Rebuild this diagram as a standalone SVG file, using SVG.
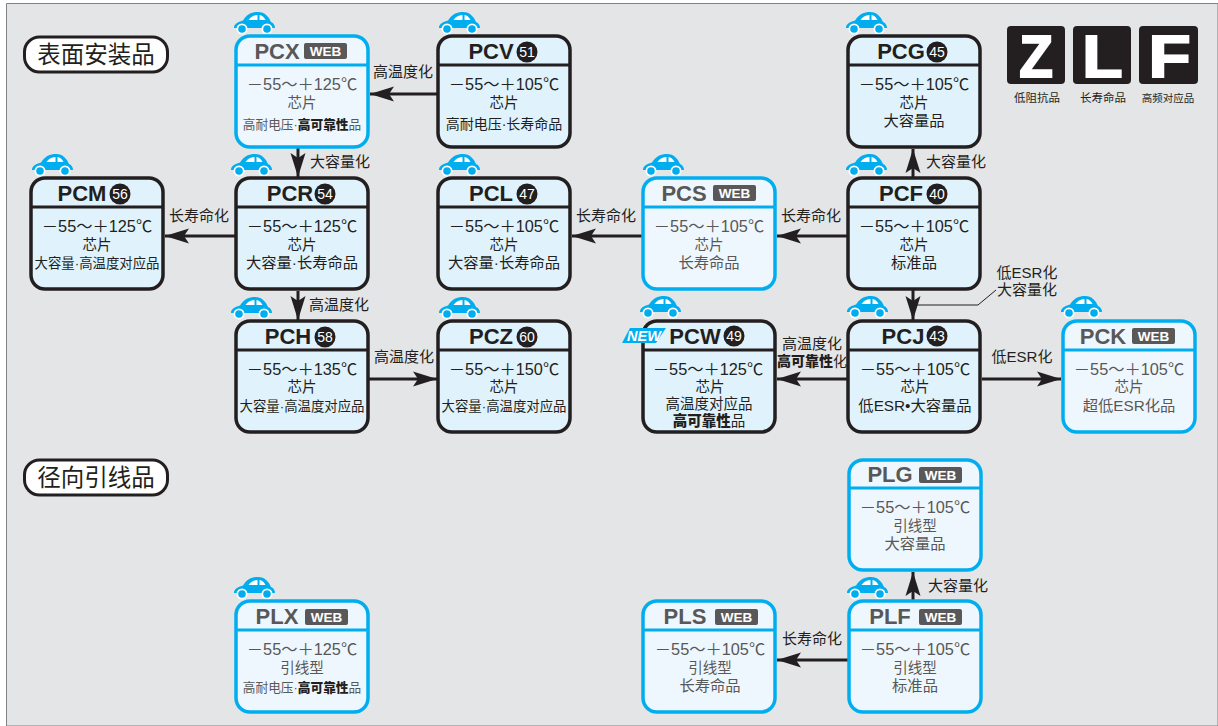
<svg xmlns="http://www.w3.org/2000/svg" xmlns:xlink="http://www.w3.org/1999/xlink" width="1218" height="726" viewBox="0 0 1218 726">
<style>
text{font-family:"Liberation Sans","Noto Sans CJK SC",sans-serif;text-anchor:middle;fill:#231f20}
.box{stroke-width:3.5}
.k .box{stroke:#231f20;fill:#e0f2fb}
.b .box{stroke:#00aeef;fill:#eef7fd}
.k .div{stroke:#231f20;stroke-width:3}
.b .div{stroke:#00aeef;stroke-width:3}
.t{font-size:22px;font-weight:700}
.b text{fill:#595757}
.temp{font-size:16.300px}
.l2{font-size:14.500px}
.l3{font-size:15.300px}
.l3w{font-size:13.400px}
.l3x{font-size:12.700px}
.b text.w,.w{fill:#fff;font-size:13.500px;font-weight:700}
.n{fill:#fff;font-size:14px}
.b tspan.s,.s{font-weight:900;fill:#231f20}
.lab{font-size:15px}
.conn{stroke:#231f20;stroke-width:3;fill:none;marker-end:url(#ah)}
.cap{font-size:11.500px}
.z{fill:#fff;stroke:#fff;stroke-width:2;font-size:60px;font-weight:700}
.tag{fill:#fff;stroke:#231f20;stroke-width:3}
.sec{font-size:23.500px}
</style>
<defs>
<marker id="ah" markerUnits="userSpaceOnUse" markerWidth="26" markerHeight="18" refX="24" refY="9" orient="auto"><path d="M0 1.500L24 9L0 16.500L5 9Z" fill="#231f20"/></marker>
<symbol id="car" width="44" height="24" viewBox="0 0 44 24" overflow="visible">
<path d="M0 15C1 11 5 9.500 9 8.500C13 2 18 0 24 0C31 0 35 5 37 10C40 11 41 14 41 16H0Z" fill="#00aeef"/>
<path d="M14.500 8C16.500 5 19 3.200 23.500 3V8ZM25.500 3C28 3.200 30 5 31.500 8H25.500Z" fill="#fff"/>
<circle cx="8" cy="17" r="5.500" fill="#fff"/><circle cx="8" cy="17" r="3.800" fill="#00aeef"/>
<circle cx="33" cy="17" r="5.500" fill="#fff"/><circle cx="33" cy="17" r="3.800" fill="#00aeef"/>
</symbol>
</defs>
<rect width="1218" height="726" fill="#fff"/>
<path d="M6.500 726V3.500H1218V726Z" fill="#e4e5e7" stroke="#808285" stroke-width="1"/>

<g id="section-smd"><rect class="tag" x="24.500" y="37" width="143" height="35" rx="15"/><text class="sec" x="96" y="63">表面安装品</text></g>
<g id="section-radial"><rect class="tag" x="24.500" y="460" width="143" height="35" rx="15"/><text class="sec" x="96" y="486">径向引线品</text></g>

<g id="connectors">
<path class="conn" d="M437 94H370"/>
<path class="conn" d="M298 148V177"/>
<path class="conn" d="M236 236H165"/>
<path class="conn" d="M298 291V320"/>
<path class="conn" d="M368 379H437"/>
<path class="conn" d="M643 236H572"/>
<path class="conn" d="M848 236H777"/>
<path class="conn" d="M913 178V149"/>
<path class="conn" d="M913 290V320"/>
<path class="conn" d="M848 379H777"/>
<path class="conn" d="M982 379H1061"/>
<path class="conn" d="M913 601V572"/>
<path class="conn" d="M848 660H777"/>
<path d="M914 305H978L996 290" fill="none" stroke="#231f20" stroke-width="1"/>
<text class="lab" x="403" y="77">高温度化</text>
<text class="lab" x="340" y="167">大容量化</text>
<text class="lab" x="199" y="221">长寿命化</text>
<text class="lab" x="339" y="310">高温度化</text>
<text class="lab" x="404" y="362">高温度化</text>
<text class="lab" x="606" y="221">长寿命化</text>
<text class="lab" x="811" y="221">长寿命化</text>
<text class="lab" x="956" y="167">大容量化</text>
<text class="lab" x="1027" y="278">低ESR化</text>
<text class="lab" x="1027" y="295">大容量化</text>
<text class="lab" x="812" y="349">高温度化</text>
<text class="lab" x="812" y="366" style="font-size:14px"><tspan class="s">高可靠性</tspan>化</text>
<text class="lab" x="1022" y="362">低ESR化</text>
<text class="lab" x="958" y="591">大容量化</text>
<text class="lab" x="812" y="644">长寿命化</text>
</g>

<g id="PCX" class="b"><use xlink:href="#car" href="#car" x="234" y="12"/><rect class="box" x="236" y="36" width="132" height="111" rx="14"/><path class="div" d="M236 65H368"/><rect x="304" y="43" width="43" height="16" rx="2" fill="#595757"/><text class="w" x="325.500" y="56">WEB</text><text class="t" x="277" y="59">PCX</text><text class="temp" x="302" y="90">－55～＋125℃</text><text class="l2" x="302" y="108">芯片</text><text class="l3x" x="302" y="129">高耐电压·<tspan class="s">高可靠性</tspan>品</text></g>

<g id="PCV" class="k"><use xlink:href="#car" href="#car" x="439" y="12"/><rect class="box" x="438" y="36" width="132" height="111" rx="14"/><path class="div" d="M438 65H570"/><text class="t" x="491" y="59">PCV</text><circle cx="527" cy="52" r="10.500" fill="#231f20"/><text class="n" x="527" y="57">51</text><text class="temp" x="504" y="90">－55～＋105℃</text><text class="l2" x="504" y="108">芯片</text><text class="l3" style="font-size:14px" x="504" y="129">高耐电压·长寿命品</text></g>

<g id="PCG" class="k"><use xlink:href="#car" href="#car" x="846" y="12"/><rect class="box" x="848" y="36" width="132" height="111" rx="14"/><path class="div" d="M848 65H980"/><text class="t" x="901" y="59">PCG</text><circle cx="937" cy="52" r="10.500" fill="#231f20"/><text class="n" x="937" y="57">45</text><text class="temp" x="914" y="90">－55～＋105℃</text><text class="l2" x="914" y="108">芯片</text><text class="l3" x="914" y="126">大容量品</text></g>

<g id="PCM" class="k"><use xlink:href="#car" href="#car" x="32" y="154"/><rect class="box" x="31" y="178" width="132" height="111" rx="14"/><path class="div" d="M31 207H163"/><text class="t" x="82" y="201">PCM</text><circle cx="120" cy="194" r="10.500" fill="#231f20"/><text class="n" x="120" y="199">56</text><text class="temp" x="97" y="232">－55～＋125℃</text><text class="l2" x="97" y="250">芯片</text><text class="l3w" x="97" y="268">大容量·高温度对应品</text></g>

<g id="PCR" class="k"><use xlink:href="#car" href="#car" x="231" y="154"/><rect class="box" x="236" y="178" width="132" height="111" rx="14"/><path class="div" d="M236 207H368"/><text class="t" x="290" y="201">PCR</text><circle cx="325" cy="194" r="10.500" fill="#231f20"/><text class="n" x="325" y="199">54</text><text class="temp" x="302" y="232">－55～＋125℃</text><text class="l2" x="302" y="250">芯片</text><text class="l3" x="302" y="268">大容量·长寿命品</text></g>

<g id="PCL" class="k"><use xlink:href="#car" href="#car" x="439" y="154"/><rect class="box" x="438" y="178" width="132" height="111" rx="14"/><path class="div" d="M438 207H570"/><text class="t" x="491" y="201">PCL</text><circle cx="527" cy="194" r="10.500" fill="#231f20"/><text class="n" x="527" y="199">47</text><text class="temp" x="504" y="232">－55～＋105℃</text><text class="l2" x="504" y="250">芯片</text><text class="l3" x="504" y="268">大容量·长寿命品</text></g>

<g id="PCS" class="b"><use xlink:href="#car" href="#car" x="643" y="154"/><rect class="box" x="643" y="178" width="132" height="111" rx="14"/><path class="div" d="M643 207H775"/><text class="t" x="684" y="201">PCS</text><rect x="713" y="185" width="43" height="16" rx="2" fill="#595757"/><text class="w" x="734.500" y="198">WEB</text><text class="temp" x="709" y="232">－55～＋105℃</text><text class="l2" x="709" y="250">芯片</text><text class="l3" x="709" y="268">长寿命品</text></g>

<g id="PCF" class="k"><use xlink:href="#car" href="#car" x="846" y="154"/><rect class="box" x="848" y="178" width="132" height="111" rx="14"/><path class="div" d="M848 207H980"/><text class="t" x="901" y="201">PCF</text><circle cx="937" cy="194" r="10.500" fill="#231f20"/><text class="n" x="937" y="199">40</text><text class="temp" x="914" y="232">－55～＋105℃</text><text class="l2" x="914" y="250">芯片</text><text class="l3" x="914" y="268">标准品</text></g>

<g id="PCH" class="k"><use xlink:href="#car" href="#car" x="231" y="297"/><rect class="box" x="236" y="321" width="132" height="111" rx="14"/><path class="div" d="M236 350H368"/><text class="t" x="288" y="344">PCH</text><circle cx="325" cy="337" r="10.500" fill="#231f20"/><text class="n" x="325" y="342">58</text><text class="temp" x="302" y="375">－55～＋135℃</text><text class="l2" x="302" y="392">芯片</text><text class="l3w" x="302" y="411">大容量·高温度对应品</text></g>

<g id="PCZ" class="k"><use xlink:href="#car" href="#car" x="439" y="297"/><rect class="box" x="438" y="321" width="132" height="111" rx="14"/><path class="div" d="M438 350H570"/><text class="t" x="491" y="344">PCZ</text><circle cx="527" cy="337" r="10.500" fill="#231f20"/><text class="n" x="527" y="342">60</text><text class="temp" x="504" y="375">－55～＋150℃</text><text class="l2" x="504" y="392">芯片</text><text class="l3w" x="504" y="411">大容量·高温度对应品</text></g>

<g id="PCW" class="k"><use xlink:href="#car" href="#car" x="640" y="296"/><rect class="box" x="643" y="321" width="132" height="111" rx="14"/><path class="div" d="M643 350H775"/><path d="M630 328H666L656 343H622Z" fill="#00aeef"/><text x="644" y="341" font-size="14.500" font-weight="900" font-style="italic" style="fill:#fff">NEW</text><text class="t" x="695" y="344">PCW</text><circle cx="734" cy="336" r="10.500" fill="#231f20"/><text class="n" x="734" y="341">49</text><text class="temp" x="708" y="375">－55～＋125℃</text><text class="l2" x="710" y="392">芯片</text><text class="l3" style="font-size:14.500px" x="709" y="409">高温度对应品</text><text class="l3" style="font-size:14.500px" x="709" y="426"><tspan class="s">高可靠性</tspan>品</text></g>

<g id="PCJ" class="k"><use xlink:href="#car" href="#car" x="847" y="296"/><rect class="box" x="848" y="321" width="132" height="111" rx="14"/><path class="div" d="M848 350H980"/><text class="t" x="903" y="344">PCJ</text><circle cx="937" cy="336" r="10.500" fill="#231f20"/><text class="n" x="937" y="341">43</text><text class="temp" x="915" y="375">－55～＋105℃</text><text class="l2" x="915" y="392">芯片</text><text class="l3" x="915" y="411">低ESR•大容量品</text></g>

<g id="PCK" class="b"><use xlink:href="#car" href="#car" x="1061" y="296"/><rect class="box" x="1063" y="321" width="132" height="111" rx="14"/><path class="div" d="M1063 350H1195"/><text class="t" x="1103" y="344">PCK</text><rect x="1132" y="328" width="43" height="16" rx="2" fill="#595757"/><text class="w" x="1153.500" y="341">WEB</text><text class="temp" x="1129" y="375">－55～＋105℃</text><text class="l2" x="1129" y="392">芯片</text><text class="l3" x="1129" y="411">超低ESR化品</text></g>

<g id="PLG" class="b"><rect class="box" x="849" y="460" width="132" height="110" rx="14"/><path class="div" d="M849 488H981"/><text class="t" x="890" y="482">PLG</text><rect x="919" y="467" width="43" height="16" rx="2" fill="#595757"/><text class="w" x="940.500" y="480">WEB</text><text class="temp" x="915" y="513">－55～＋105℃</text><text class="l2" x="915" y="531">引线型</text><text class="l3" x="915" y="549">大容量品</text></g>

<g id="PLX" class="b"><use xlink:href="#car" href="#car" x="234" y="577"/><rect class="box" x="236" y="601" width="132" height="111" rx="14"/><path class="div" d="M236 630H368"/><text class="t" x="277" y="624">PLX</text><rect x="305" y="609" width="43" height="16" rx="2" fill="#595757"/><text class="w" x="326.500" y="622">WEB</text><text class="temp" x="302" y="655">－55～＋125℃</text><text class="l2" x="302" y="673">引线型</text><text class="l3x" x="302" y="692">高耐电压·<tspan class="s">高可靠性</tspan>品</text></g>

<g id="PLS" class="b"><rect class="box" x="643" y="601" width="132" height="111" rx="14"/><path class="div" d="M643 630H775"/><text class="t" x="685" y="624">PLS</text><rect x="715" y="609" width="43" height="16" rx="2" fill="#595757"/><text class="w" x="736.500" y="622">WEB</text><text class="temp" x="710" y="655">－55～＋105℃</text><text class="l2" x="710" y="673">引线型</text><text class="l3" x="710" y="691">长寿命品</text></g>

<g id="PLF" class="b"><use xlink:href="#car" href="#car" x="847" y="577"/><rect class="box" x="849" y="601" width="132" height="111" rx="14"/><path class="div" d="M849 630H981"/><text class="t" x="890" y="624">PLF</text><rect x="919" y="609" width="43" height="16" rx="2" fill="#595757"/><text class="w" x="940.500" y="622">WEB</text><text class="temp" x="915" y="655">－55～＋105℃</text><text class="l2" x="915" y="673">引线型</text><text class="l3" x="915" y="691">标准品</text></g>

<g id="legend">
<rect x="1007" y="26" width="58" height="58" rx="4" fill="#231f20"/><text class="z" transform="translate(1036 77) scale(.92 1)">Z</text><text class="cap" x="1037" y="102">低阻抗品</text>
<rect x="1073" y="26" width="58" height="58" rx="4" fill="#231f20"/><text class="z" transform="translate(1102.500 77) scale(1.1 1)">L</text><text class="cap" x="1103" y="102">长寿命品</text>
<rect x="1139" y="26" width="59" height="58" rx="4" fill="#231f20"/><text class="z" transform="translate(1169.500 77) scale(1.15 1)">F</text><text class="cap" x="1168" y="102" style="font-size:10.500px">高频对应品</text>
</g>
</svg>
